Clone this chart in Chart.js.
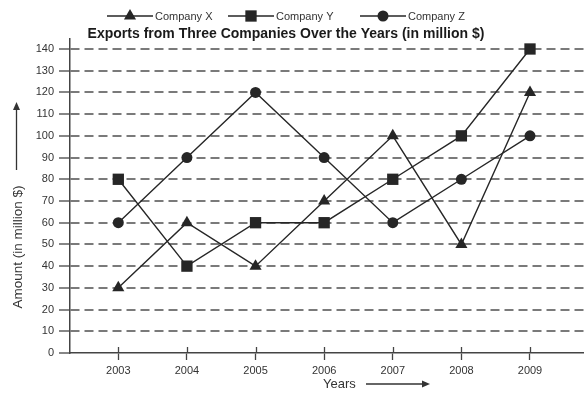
<!DOCTYPE html>
<html lang="en">
<head>
    <meta charset="UTF-8">
    <script src="https://cdn.jsdelivr.net/npm/chart.js@4.4.1/dist/chart.umd.min.js"></script>
    <title>Exports from Three Companies</title>
    <style>
        html, body { margin: 0; padding: 0; background: #fff; }
        #chart-container { width: 584px; height: 394px; }
    </style>
</head>
<body>
    <div id="chart-container">
        <canvas id="exportChart" width="584" height="394"></canvas>
    </div>

    <script>
        // data
        const years = [2003, 2004, 2005, 2006, 2007, 2008, 2009];
        const companyX = [30, 60, 40, 70, 100, 50, 120];
        const companyY = [80, 40, 60, 60, 80, 100, 140];
        const companyZ = [60, 90, 120, 90, 60, 80, 100];
        const yTicks = [0, 10, 20, 30, 40, 50, 60, 70, 80, 90, 100, 110, 120, 130, 140];
        const seriesNames = ['Company X', 'Company Y', 'Company Z'];
        const chartTitle = 'Exports from Three Companies Over the Years (in million $)';
        const yTitle = 'Amount (in million $)';
        const xTitle = 'Years';

        const FONT = '"Liberation Sans", Arial, sans-serif';
        const INK = '#262626';
        const styles = [
            { pointStyle: 'triangle', radius: 7 },
            { pointStyle: 'rect', radius: 8 },
            { pointStyle: 'circle', radius: 5.5 }
        ];

        function toPoints(values) {
            return years.map((yr, i) => ({ x: yr, y: values[i] }));
        }

        const datasets = [companyX, companyY, companyZ].map((vals, i) => ({
            label: seriesNames[i],
            data: toPoints(vals),
            borderColor: INK,
            backgroundColor: INK,
            borderWidth: 1.4,
            pointStyle: styles[i].pointStyle,
            pointRadius: styles[i].radius,
            pointHoverRadius: styles[i].radius,
            pointBackgroundColor: INK,
            pointBorderColor: INK,
            pointBorderWidth: 0,
            tension: 0
        }));

        function arrowHead(ctx, x, y, dir) {
            // dir: 'up' or 'right'
            ctx.beginPath();
            if (dir === 'up') {
                ctx.moveTo(x, y);
                ctx.lineTo(x - 3.5, y + 8);
                ctx.lineTo(x + 3.5, y + 8);
            } else {
                ctx.moveTo(x, y);
                ctx.lineTo(x - 8, y - 3.5);
                ctx.lineTo(x - 8, y + 3.5);
            }
            ctx.closePath();
            ctx.fill();
        }

        const decorations = {
            id: 'decorations',
            afterDraw(chart) {
                const ctx = chart.ctx;
                const xs = chart.scales.x;
                const ys = chart.scales.y;
                ctx.save();
                ctx.setLineDash([]);

                // small tick marks above the x axis
                ctx.strokeStyle = '#444';
                ctx.lineWidth = 1.3;
                years.forEach(yr => {
                    const px = Math.round(xs.getPixelForValue(yr)) + 0.5;
                    ctx.beginPath();
                    ctx.moveTo(px, ys.bottom - 6);
                    ctx.lineTo(px, ys.bottom);
                    ctx.stroke();
                });

                // legend
                const legendY = 16;
                const legendX = [107, 228, 360];
                ctx.font = '11px ' + FONT;
                ctx.textBaseline = 'middle';
                ctx.textAlign = 'left';
                seriesNames.forEach((name, i) => {
                    const x0 = legendX[i];
                    ctx.strokeStyle = INK;
                    ctx.lineWidth = 1.3;
                    ctx.beginPath();
                    ctx.moveTo(x0, legendY);
                    ctx.lineTo(x0 + 46, legendY);
                    ctx.stroke();
                    ctx.fillStyle = INK;
                    Chart.helpers.drawPoint(ctx, {
                        pointStyle: styles[i].pointStyle,
                        radius: styles[i].radius,
                        borderWidth: 0
                    }, x0 + 23, legendY);
                    ctx.fillStyle = '#333';
                    ctx.fillText(name, x0 + 48, legendY + 1);
                });

                // title
                ctx.fillStyle = '#1a1a1a';
                ctx.font = 'bold 14px ' + FONT;
                ctx.textAlign = 'center';
                ctx.fillText(chartTitle, 286, 34);

                // x axis title with arrow
                ctx.fillStyle = '#333';
                ctx.font = '13px ' + FONT;
                ctx.textAlign = 'left';
                ctx.fillText(xTitle, 323, 384);
                ctx.strokeStyle = '#333';
                ctx.lineWidth = 1.3;
                ctx.beginPath();
                ctx.moveTo(366, 384);
                ctx.lineTo(424, 384);
                ctx.stroke();
                arrowHead(ctx, 430, 384, 'right');

                // y axis title with arrow
                ctx.save();
                ctx.translate(18, 247);
                ctx.rotate(-Math.PI / 2);
                ctx.textAlign = 'center';
                ctx.font = '13.5px ' + FONT;
                ctx.fillText(yTitle, 0, 0);
                ctx.restore();
                ctx.beginPath();
                ctx.moveTo(16.5, 170);
                ctx.lineTo(16.5, 108);
                ctx.stroke();
                arrowHead(ctx, 16.5, 102, 'up');

                ctx.restore();
            }
        };

        new Chart(document.getElementById('exportChart').getContext('2d'), {
            type: 'line',
            data: { datasets: datasets },
            plugins: [decorations],
            options: {
                responsive: false,
                animation: false,
                layout: { autoPadding: false, padding: { top: 39, left: 0, right: 0, bottom: 0 } },
                plugins: {
                    legend: { display: false },
                    title: { display: false },
                    tooltip: { enabled: false }
                },
                scales: {
                    x: {
                        type: 'linear',
                        min: 2002.296,
                        max: 2009.787,
                        afterBuildTicks: scale => {
                            scale.ticks = years.map(v => ({ value: v }));
                        },
                        afterFit: scale => { scale.height = 41; },
                        ticks: {
                            color: '#333',
                            font: { family: FONT, size: 11 },
                            padding: 4,
                            maxRotation: 0,
                            autoSkip: false,
                            callback: v => String(v)
                        },
                        grid: {
                            drawOnChartArea: false,
                            drawTicks: true,
                            tickLength: 7,
                            tickColor: '#444',
                            tickWidth: 1.3
                        },
                        border: { display: true, color: '#444', width: 1.5 }
                    },
                    y: {
                        min: 0,
                        max: 144.6,
                        afterBuildTicks: scale => {
                            scale.ticks = yTicks.map(v => ({ value: v }));
                        },
                        afterFit: scale => { scale.width = 70; },
                        ticks: {
                            color: '#333',
                            font: { family: FONT, size: 11 },
                            padding: 5
                        },
                        grid: {
                            color: c => (c.tick && c.tick.value === 0) ? 'rgba(0,0,0,0)' : '#7a7a7a',
                            lineWidth: 2,
                            tickLength: 11,
                            tickColor: '#444',
                            tickWidth: 1.3,
                            tickBorderDash: []
                        },
                        border: { display: true, color: '#444', width: 1.5, dash: [9, 5] }
                    }
                }
            }
        });
    </script>
</body>
</html>
